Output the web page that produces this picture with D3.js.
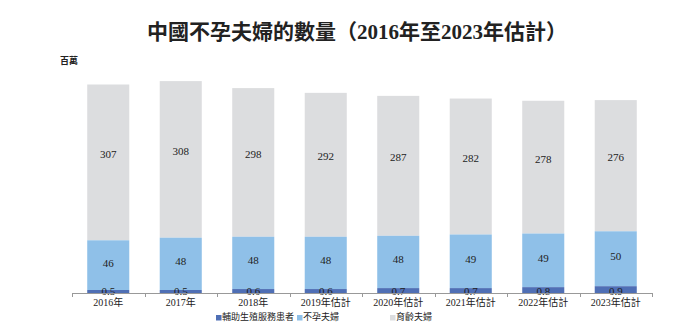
<!DOCTYPE html>
<html><head><meta charset="utf-8">
<script src="https://cdn.jsdelivr.net/npm/d3@7"></script>
<style>
body{margin:0;background:#fff;}
svg text{font-family:"Liberation Serif","Noto Sans CJK TC",serif;fill:#222;}
</style></head>
<body><svg id="c" width="696" height="332"></svg>
<script>
const categories = ["2016年","2017年","2018年","2019年估計","2020年估計","2021年估計","2022年估計","2023年估計"];
const artPatients = [0.5,0.5,0.6,0.6,0.7,0.7,0.8,0.9];
const infertileCouples = [46,48,48,48,48,49,49,50];
const fertileCouples = [307,308,298,292,287,282,278,276];
const seriesNames = ["輔助生殖服務患者","不孕夫婦","育齡夫婦"];
const colors = ["#4f6fb5","#8fc0e8","#dcdddf"];

const svg = d3.select("#c");
const baseY = 293;
const x = d3.scaleBand().domain(categories).range([72,652]).paddingInner(0.42).paddingOuter(0.21);
// segment height scales (the reference uses a compressed, non-proportional stack)
const hDark = d3.scaleLinear().domain([0.5,0.9]).range([3,6.8]);
const hBlue = d3.scaleLinear().domain([48,50]).range([52.3,54.9]);
const hGray = d3.scaleLinear().domain([110.7,307]).range([0,155.8]);

// title
svg.append("text").attr("x",357).attr("y",39).attr("text-anchor","middle")
  .style("font-size","21px").style("font-weight","bold")
  .text("中國不孕夫婦的數量（2016年至2023年估計）");
svg.append("text").attr("x",60).attr("y",64).style("font-size","9px").style("font-weight","bold").text("百萬");

const rows = categories.map((c,i)=>{
  const d0 = baseY, d1 = d0 - hDark(artPatients[i]);
  const b1 = d1 - hBlue(infertileCouples[i]);
  const g1 = b1 - hGray(fertileCouples[i]);
  return {c, i, d0, d1, b1, g1};
});

const g = svg.append("g");
rows.forEach(r=>{
  const bx = x(r.c), bw = x.bandwidth();
  g.append("rect").attr("x",bx).attr("width",bw).attr("y",r.g1).attr("height",r.b1-r.g1).attr("fill",colors[2]);
  g.append("rect").attr("x",bx).attr("width",bw).attr("y",r.b1).attr("height",r.d1-r.b1).attr("fill",colors[1]);
  g.append("rect").attr("x",bx).attr("width",bw).attr("y",r.d1).attr("height",r.d0-r.d1).attr("fill",colors[0]);
  const cx = bx + bw/2;
  g.append("text").attr("x",cx).attr("y",(r.g1+r.b1)/2-7).attr("text-anchor","middle").attr("dominant-baseline","middle")
    .style("font-size","11px").text(fertileCouples[r.i]);
  g.append("text").attr("x",cx).attr("y",(r.b1+r.d1)/2-1).attr("text-anchor","middle").attr("dominant-baseline","middle")
    .style("font-size","11px").text(infertileCouples[r.i]);
  g.append("text").attr("x",cx).attr("y",r.d0-0.5).attr("text-anchor","middle").attr("dominant-baseline","middle")
    .style("font-size","11px").text(artPatients[r.i]);
});

// axis
const ax = svg.append("g");
ax.append("line").attr("x1",72).attr("x2",652).attr("y1",baseY+0.5).attr("y2",baseY+0.5).attr("stroke","#999").attr("stroke-width",1);
d3.range(categories.length+1).forEach(k=>{
  const ex = 72 + k*x.step();
  ax.append("line").attr("x1",Math.round(ex)+0.5).attr("x2",Math.round(ex)+0.5).attr("y1",baseY).attr("y2",baseY+4).attr("stroke","#999");
});
categories.forEach(c=>{
  ax.append("text").attr("x",x(c)+x.bandwidth()/2).attr("y",304).attr("text-anchor","middle").attr("dominant-baseline","middle")
    .style("font-size","10px").text(c);
});

// legend
const legendX = [216,297,390];
seriesNames.forEach((n,i)=>{
  svg.append("rect").attr("x",legendX[i]).attr("y",315).attr("width",5.5).attr("height",5.5).attr("fill",colors[i]);
  svg.append("text").attr("x",legendX[i]+6).attr("y",318).attr("dominant-baseline","middle").style("font-size","9px").text(n);
});
</script></body></html>
